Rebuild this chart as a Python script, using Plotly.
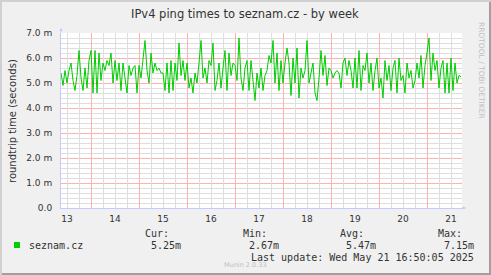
import pandas as pd
import plotly.graph_objects as go

W, H = 491, 275
L, R, T, B = 61, 29, 33, 67
PW, PH = W - L - R, H - T - B

title = "IPv4 ping times to seznam.cz - by week"
y_title = "roundtrip time (seconds)"
series_name = "seznam.cz"
day_labels = ["13", "14", "15", "16", "17", "18", "19", "20", "21"]
y_tick_vals = [0, 1, 2, 3, 4, 5, 6, 7]
y_tick_text = ["0.0", "1.0 m", "2.0 m", "3.0 m", "4.0 m", "5.0 m", "6.0 m", "7.0 m"]
stat_headers = ["Cur:", "Min:", "Avg:", "Max:"]
stat_values = ["5.25m", "2.67m", "5.47m", "7.15m"]
last_update = "Last update: Wed May 21 16:50:05 2025"
start_time = "2025-05-13 09:00"
x_range = ["2025-05-13 09:00", "2025-05-21 17:30"]

# ping times (milliseconds), hourly samples
ping_ms = [
    5.4, 4.9, 5.5, 5.0, 5.5, 5.8, 5.1, 4.7, 5.3, 6.3, 5.2, 4.7, 5.6, 4.8, 5.9,
    6.3, 4.6, 6.3, 4.6, 6.2, 5.1, 5.8, 5.5, 5.9, 5.7, 6.2, 5.0, 5.9, 5.1, 5.8,
    4.7, 5.8, 5.2, 4.6, 5.7, 5.3, 5.6, 5.7, 4.6, 5.7, 5.2, 5.9, 6.7, 5.5, 5.0,
    6.2, 5.4, 5.8, 5.5, 5.6, 5.4, 5.4, 4.7, 5.8, 4.6, 5.9, 4.7, 5.8, 5.1, 6.6,
    5.3, 5.9, 5.1, 5.8, 4.8, 5.2, 4.6, 5.4, 5.0, 5.8, 6.7, 5.2, 5.6, 5.0, 5.9,
    5.7, 6.6, 4.7, 5.1, 5.8, 4.8, 5.6, 6.3, 4.7, 6.2, 5.3, 5.8, 5.7, 5.1, 6.8,
    5.2, 4.7, 5.6, 5.9, 4.7, 5.9, 5.1, 4.3, 5.4, 4.8, 5.6, 4.7, 5.3, 5.5, 6.1,
    5.8, 6.7, 5.0, 6.2, 4.7, 5.9, 5.0, 5.8, 6.4, 5.8, 4.5, 6.0, 5.0, 6.4, 4.4,
    5.6, 5.2, 5.5, 6.7, 5.0, 5.4, 5.8, 4.6, 4.3, 5.2, 6.3, 5.3, 6.1, 4.9, 5.6,
    5.5, 5.2, 5.4, 5.5, 5.4, 4.8, 5.8, 6.0, 5.3, 5.9, 5.5, 4.8, 6.0, 4.8, 6.3,
    4.7, 5.7, 5.5, 6.2, 5.0, 5.8, 4.7, 5.5, 6.0, 4.8, 5.2, 4.4, 5.9, 5.1, 5.7,
    4.7, 5.6, 5.9, 4.6, 6.0, 5.1, 5.3, 4.6, 5.8, 5.2, 5.5, 4.8, 5.1, 5.8, 5.2,
    6.1, 4.8, 5.7, 6.2, 6.8, 5.1, 6.2, 5.5, 5.9, 4.8, 5.6, 5.9, 4.6, 5.8, 4.6,
    6.0, 4.7, 5.8, 5.0, 5.3, 5.25,
]

times = pd.date_range(start_time, periods=len(ping_ms), freq="h")
noons = [d.strftime("%Y-%m-%d %H:%M") for d in
         pd.date_range("2025-05-13 12:00", periods=len(day_labels), freq="D")]
midnights = [d.strftime("%Y-%m-%d %H:%M") for d in
             pd.date_range("2025-05-14 00:00", periods=8, freq="D")]
six_hours = [d.strftime("%Y-%m-%d %H:%M") for d in
             pd.date_range("2025-05-13 12:00", periods=34, freq="6h")
             if d.hour != 0]

def px(x):
    return (x - L) / PW

def py(y):
    return (H - B - y) / PH

TEXT = "#333333"
MONO = "DejaVu Sans Mono"
SANS = "DejaVu Sans"
RED = "#ffb0b0"
GREY = "#dedede"

fig = go.Figure()
fig.add_trace(go.Scatter(x=[times[0]], y=[None], xaxis="x3", mode="lines",
                         showlegend=False, hoverinfo="skip"))
fig.add_trace(go.Scatter(x=[times[0]], y=[None], xaxis="x2", mode="lines",
                         showlegend=False, hoverinfo="skip"))
fig.add_trace(go.Scatter(x=times, y=ping_ms, mode="lines",
                         line=dict(color="#00cc00", width=1),
                         hoverinfo="skip", showlegend=False))

axis_common = dict(type="date", range=x_range, zeroline=False, ticks="")
fig.update_layout(
    width=W, height=H,
    margin=dict(l=L, r=R, t=T, b=B),
    paper_bgcolor="#f0f0f0",
    plot_bgcolor="#ffffff",
    showlegend=False,
    xaxis=dict(**axis_common, tickmode="array", tickvals=midnights,
               showticklabels=False, showgrid=True, gridcolor=RED, gridwidth=1,
               showline=True, linecolor="#c8c8ff", linewidth=1),
    xaxis2=dict(**axis_common, overlaying="x", side="bottom",
                tickmode="array", tickvals=noons, ticktext=day_labels,
                showgrid=False, showline=False,
                tickfont=dict(family=SANS, size=9, color=TEXT),
                ticklabelstandoff=4),
    xaxis3=dict(**axis_common, overlaying="x", side="bottom",
                tickmode="array", tickvals=six_hours, showticklabels=False,
                showgrid=True, gridcolor=GREY, gridwidth=1, showline=False),
    yaxis=dict(range=[0, 7], tickmode="array", tickvals=y_tick_vals,
               ticktext=y_tick_text, showgrid=True, gridcolor=RED, gridwidth=1,
               minor=dict(dtick=0.2, showgrid=True, gridcolor=GREY, gridwidth=1),
               zeroline=False, showline=True, linecolor="#c8c8ff", linewidth=1,
               ticks="", tickfont=dict(family=SANS, size=9, color=TEXT),
               ticklabelstandoff=6),
)

ann = []
def text(x, y, s, size, color=TEXT, family=SANS, xanchor="center", angle=0):
    ann.append(dict(x=px(x), y=py(y), xref="paper", yref="paper", text=s,
                    showarrow=False, xanchor=xanchor, yanchor="middle",
                    textangle=angle, font=dict(family=family, size=size, color=color)))

text(245, 14, title, 11.5)
text(12, 121, y_title, 10, angle=-90)
text(482, 70, "RRDTOOL / TOBI OETIKER", 7.5, color="#c0c0c0", angle=90)
text(27, 245, series_name, 10, family=MONO, xanchor="left")
for i, (h, v) in enumerate(zip(stat_headers, stat_values)):
    right = 183 + i * 97.7
    text(right - 12, 233, h, 10, family=MONO, xanchor="right")
    text(right, 245, v, 10, family=MONO, xanchor="right")
text(245, 265, "Munin 2.0.33", 6.5, color="#c0c0c0")
text(476, 257, last_update, 10, family=MONO, xanchor="right")

# axis arrows
ann.append(dict(x=px(466), y=0, xref="paper", yref="paper", ax=-6, ay=0,
                showarrow=True, arrowhead=2, arrowsize=0.6, arrowwidth=1,
                arrowcolor="#c8c8ff", text=""))
ann.append(dict(x=0, y=py(28), xref="paper", yref="paper", ax=0, ay=6,
                showarrow=True, arrowhead=2, arrowsize=0.6, arrowwidth=1,
                arrowcolor="#c8c8ff", text=""))
fig.update_layout(annotations=ann)

shapes = [
    dict(type="rect", x0=px(14), x1=px(20), y0=py(242), y1=py(248),
         xref="paper", yref="paper", fillcolor="#00cc00", line=dict(width=0)),
    dict(type="rect", x0=px(0), x1=px(W), y0=py(H - 2), y1=py(H),
         xref="paper", yref="paper", fillcolor="#a0a0a0", line=dict(width=0)),
    dict(type="rect", x0=px(W - 2), x1=px(W), y0=py(0), y1=py(H),
         xref="paper", yref="paper", fillcolor="#a0a0a0", line=dict(width=0)),
    dict(type="rect", x0=px(0), x1=px(W), y0=py(0), y1=py(2),
         xref="paper", yref="paper", fillcolor="#d0d0d0", line=dict(width=0)),
    dict(type="rect", x0=px(0), x1=px(2), y0=py(0), y1=py(H),
         xref="paper", yref="paper", fillcolor="#d0d0d0", line=dict(width=0)),
]
fig.update_layout(shapes=shapes)

fig.write_html("out.html")
